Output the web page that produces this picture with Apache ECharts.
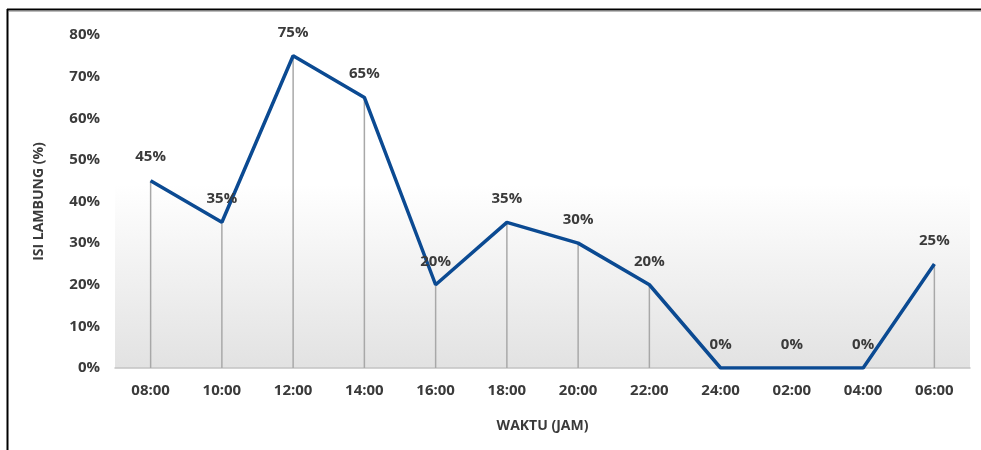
<!DOCTYPE html>
<html>
<head>
<meta charset="utf-8">
<script src="https://cdn.jsdelivr.net/npm/echarts@6/dist/echarts.min.js"></script>
<style>
html,body{margin:0;padding:0;background:#fff}
#chart{width:981px;height:450px}
</style>
</head>
<body>
<div id="chart"></div>
<script>
var hours = ['08:00','10:00','12:00','14:00','16:00','18:00','20:00','22:00','24:00','02:00','04:00','06:00']
var isiLambung = [45,35,75,65,20,35,30,20,0,0,0,25]
var yTicks = [0,10,20,30,40,50,60,70,80]

var txt = '#3a3a3a'
var font = '"Open Sans", "Liberation Sans", sans-serif'

var chart = echarts.init(document.getElementById('chart'))
var options = {
    animation:false,
    grid:{
        left:115, right:11, top:35, bottom:82,
        show:true, borderWidth:0,
        backgroundColor:new echarts.graphic.LinearGradient(0,0,0,1,[
            {offset:0,color:'#ffffff'},
            {offset:0.45,color:'#ffffff'},
            {offset:1,color:'#e2e2e2'}
        ])
    },
    xAxis:{
        type:'category',
        data:hours,
        name:'WAKTU (JAM)',
        nameLocation:'middle',
        nameGap:51,
        nameTextStyle:{color:txt,fontWeight:'bold',fontSize:14,fontFamily:font},
        axisLine:{lineStyle:{color:'#c4c4c4',width:1.5}},
        axisTick:{show:false},
        axisLabel:{color:txt,fontWeight:'bold',fontSize:15,fontFamily:font,margin:15},
        splitLine:{show:false}
    },
    yAxis:{
        type:'value',
        min:yTicks[0],
        max:yTicks[yTicks.length-1],
        interval:10,
        name:'ISI LAMBUNG (%)',
        nameLocation:'middle',
        nameGap:69,
        nameTextStyle:{color:txt,fontWeight:'bold',fontSize:14,fontFamily:font},
        axisLine:{show:false},
        axisTick:{show:false},
        splitLine:{show:false},
        axisLabel:{color:txt,fontWeight:'bold',fontSize:15,fontFamily:font,margin:15,formatter:'{value}%'}
    },
    series:[
        {
            name:'drop',
            type:'bar',
            data:isiLambung,
            barWidth:1.5,
            itemStyle:{color:'#a8a8a8'},
            silent:true,
            z:1
        },
        {
            name:'Isi Lambung',
            type:'line',
            data:isiLambung,
            symbol:'circle',
            symbolSize:0,
            showSymbol:true,
            lineStyle:{color:'#0b4a92',width:3.5},
            itemStyle:{color:'#0b4a92'},
            label:{
                show:true,
                position:'top',
                distance:16,
                formatter:'{c}%',
                color:txt,
                fontWeight:'bold',
                fontSize:15,
                fontFamily:font
            },
            labelLayout:{hideOverlap:false},
            z:3
        }
    ],
    graphic:[
        {type:'line',shape:{x1:7,y1:9.5,x2:981,y2:9.5},style:{stroke:'#000',lineWidth:2}},
        {type:'line',shape:{x1:7.5,y1:9,x2:7.5,y2:450},style:{stroke:'#000',lineWidth:2}},
        {type:'line',shape:{x1:9,y1:11.5,x2:981,y2:11.5},style:{stroke:'#bbbbbb',lineWidth:1}}
    ]
}
chart.setOption(options)
</script>
</body>
</html>
